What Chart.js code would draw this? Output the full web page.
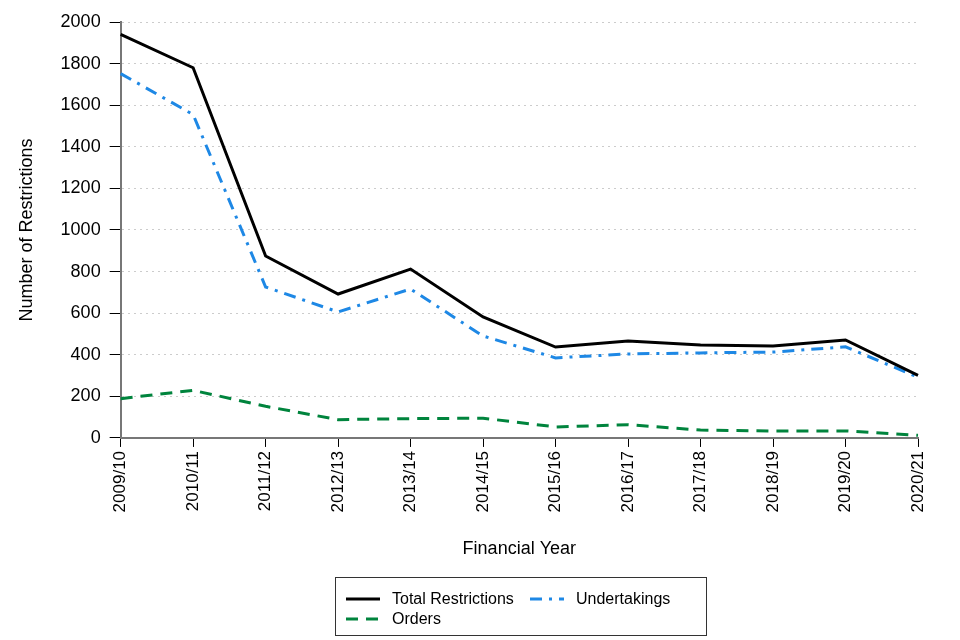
<!DOCTYPE html>
<html>
<head>
<meta charset="utf-8">
<script src="https://cdn.jsdelivr.net/npm/chart.js@4"></script>
<style>
    body { margin: 0; background: #fff; font-family: "Liberation Sans", Arial, sans-serif; }
    #wrap { position: relative; width: 960px; height: 640px; }
    #legend {
        position: absolute; left: 335px; top: 577px; width: 370px; height: 57px;
        border: 1px solid #333; font-size: 16px; color: #000;
    }
    .item { position: absolute; display: flex; align-items: center; }
    .item svg { margin-right: 12px; }
</style>
</head>
<body>
<div id="wrap">
    <canvas id="restrictions-chart"></canvas>
    <div id="legend"></div>
</div>
<script>
const years = ["2009/10", "2010/11", "2011/12", "2012/13", "2013/14", "2014/15",
    "2015/16", "2016/17", "2017/18", "2018/19", "2019/20", "2020/21"];
const totalRestrictions = [1940, 1780, 875, 692, 812, 582, 437, 466, 447, 442, 471, 301];
const undertakings = [1752, 1555, 726, 606, 716, 490, 385, 404, 409, 413, 438, 292];
const orders = [189, 229, 152, 88, 93, 95, 53, 64, 38, 33, 34, 13];
const yTicks = [0, 200, 400, 600, 800, 1000, 1200, 1400, 1600, 1800, 2000];

const series = [
    { label: "Total Restrictions", data: totalRestrictions, color: "#000000", dash: [], pos: [10, 22] },
    { label: "Undertakings", data: undertakings, color: "#1E88E5", dash: [12, 7, 3, 7], pos: [194, 22] },
    { label: "Orders", data: orders, color: "#00843D", dash: [12, 8], pos: [10, 42] },
];

const ctx = document.getElementById("restrictions-chart");
const font = { family: "'Liberation Sans', Arial, sans-serif" };

new Chart(ctx, {
    type: "line",
    data: {
        labels: years,
        datasets: series.map((s) => ({
            label: s.label,
            data: s.data,
            borderColor: s.color,
            borderWidth: 3,
            borderDash: s.dash,
            pointRadius: 0,
            fill: false,
            tension: 0,
        })),
    },
    options: {
        responsive: true,
        maintainAspectRatio: false,
        animation: false,
        layout: { padding: { left: 14, right: 42, top: 22, bottom: 76 } },
        plugins: { legend: { display: false }, tooltip: { enabled: false } },
        scales: {
            x: {
                offset: false,
                grid: { drawOnChartArea: false, tickLength: 9, tickColor: "#000", tickWidth: 1 },
                border: { color: "#777", width: 2 },
                ticks: { color: "#000", font: { ...font, size: 17 }, maxRotation: 90, minRotation: 90, padding: 4 },
                title: { display: true, text: "Financial Year", color: "#000", font: { ...font, size: 18 }, padding: { top: 22 } },
            },
            y: {
                min: 0,
                max: 2000,
                afterBuildTicks: (axis) => { axis.ticks = yTicks.map((v) => ({ value: v })); },
                grid: { color: "#cccccc", tickLength: 11, tickColor: "#000", tickBorderDash: [] },
                border: { color: "#777", width: 2, dash: [2, 4] },
                ticks: { color: "#000", font: { ...font, size: 18 }, padding: 9, callback: (v) => String(v) },
                title: { display: true, text: "Number of Restrictions", color: "#000", font: { ...font, size: 18 }, padding: { top: 2, bottom: 14 } },
            },
        },
    },
});

const legend = document.getElementById("legend");
series.forEach((s) => {
    const item = document.createElement("div");
    item.className = "item";
    item.style.left = s.pos[0] + "px";
    item.style.top = (s.pos[1] - 10) + "px";
    item.innerHTML = `<svg width="34" height="6"><line x1="0" y1="3" x2="34" y2="3" stroke="${s.color}" stroke-width="3" stroke-dasharray="${s.dash.join(" ")}"/></svg><span>${s.label}</span>`;
    legend.appendChild(item);
});
</script>
</body>
</html>
